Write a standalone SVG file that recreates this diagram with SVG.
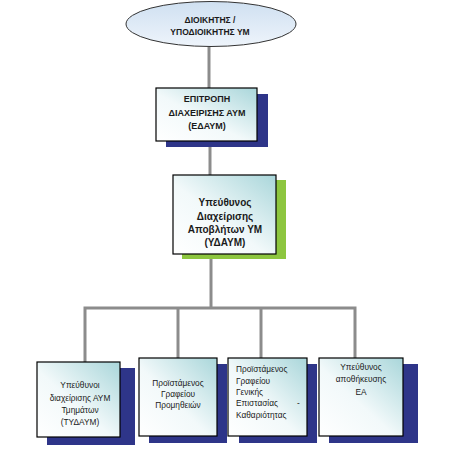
<svg xmlns="http://www.w3.org/2000/svg" width="474" height="457" viewBox="0 0 474 457">
<defs>
<linearGradient id="boxg" x1="0" y1="1" x2="1" y2="0">
<stop offset="0" stop-color="#ffffff"/>
<stop offset="0.45" stop-color="#f2f9fa"/>
<stop offset="1" stop-color="#a9d6da"/>
</linearGradient>
<linearGradient id="ellg" x1="0" y1="0" x2="0" y2="1">
<stop offset="0" stop-color="#cfe0f1"/>
<stop offset="1" stop-color="#eef4fb"/>
</linearGradient>
<style>
.box{fill:url(#boxg);stroke:#000;stroke-width:1.2}
.sh{fill:#2e3589}
.gr{fill:#8dc63f}
.ln{stroke:#8c8c8c;stroke-width:3;fill:none}
text{font-family:"Liberation Sans",Arial,sans-serif;fill:#1a1a1a}
.b{font-weight:bold}
.c{text-anchor:middle}
.s{font-size:8.3px}
</style>
</defs>
<rect width="474" height="457" fill="#ffffff"/>
<g id="connectors">
<line class="ln" x1="209" y1="47" x2="209" y2="88"/>
<line class="ln" x1="210" y1="147" x2="210" y2="175"/>
<line class="ln" x1="211" y1="259" x2="211" y2="308"/>
<polyline class="ln" points="85,362 85,308 355,308 355,358"/>
<line class="ln" x1="178" y1="308" x2="178" y2="358"/>
<line class="ln" x1="261" y1="308" x2="261" y2="358"/>
</g>
<g id="n_dioikitis">
<ellipse cx="211" cy="24" rx="85" ry="22.5" fill="url(#ellg)" stroke="#333" stroke-width="1"/>
<text class="b c" x="210" y="23" font-size="8.5">ΔΙΟΙΚΗΤΗΣ /</text>
<text class="b c" x="210" y="35" font-size="8.5">ΥΠΟΔΙΟΙΚΗΤΗΣ ΥΜ</text>
</g>
<g id="n_edaym">
<rect class="sh" x="166" y="94" width="102" height="53"/>
<rect class="box" x="156" y="88" width="101" height="53"/>
<text class="b c" x="207" y="102" font-size="9">ΕΠΙΤΡΟΠΗ</text>
<text class="b c" x="207" y="116" font-size="9">ΔΙΑΧΕΙΡΙΣΗΣ ΑΥΜ</text>
<text class="b c" x="207" y="129" font-size="9">(ΕΔΑΥΜ)</text>
</g>
<g id="n_ydaym">
<rect class="gr" x="182" y="180" width="104" height="79"/>
<rect class="box" x="173" y="175" width="103" height="79"/>
<text class="b c" x="225" y="206" font-size="10">Υπεύθυνος</text>
<text class="b c" x="225" y="219.5" font-size="10">Διαχείρισης</text>
<text class="b c" x="225" y="232.5" font-size="10">Αποβλήτων ΥΜ</text>
<text class="b c" x="225" y="245.5" font-size="10">(ΥΔΑΥΜ)</text>
</g>
<g id="n_tydaym">
<rect class="sh" x="47" y="368" width="88" height="77"/>
<rect class="box" x="37" y="362" width="83" height="75"/>
<text class="c s" x="80" y="388">Υπεύθυνοι</text>
<text class="c s" x="80" y="401">διαχείρισης ΑΥΜ</text>
<text class="c s" x="80" y="413">Τμημάτων</text>
<text class="c s" x="80" y="425">(ΤΥΔΑΥΜ)</text>
</g>
<g id="n_promitheion">
<rect class="sh" x="149" y="364" width="78" height="79"/>
<rect class="box" x="139" y="358" width="78" height="78"/>
<text class="c s" x="178" y="386">Προϊστάμενος</text>
<text class="c s" x="178" y="397">Γραφείου</text>
<text class="c s" x="178" y="408">Προμηθειών</text>
</g>
<g id="n_epistasias">
<rect class="sh" x="239" y="364" width="78" height="79"/>
<rect class="box" x="228" y="358" width="79" height="78"/>
<text class="s" x="236" y="372">Προϊστάμενος</text>
<text class="s" x="236" y="384">Γραφείου</text>
<text class="s" x="236" y="395">Γενικής</text>
<text class="s" x="236" y="406">Επιστασίας</text>
<text class="s" x="297" y="406">-</text>
<text class="s" x="236" y="418">Καθαριότητας</text>
</g>
<g id="n_apothikeusis">
<rect class="sh" x="329" y="364" width="89" height="79"/>
<rect class="box" x="319" y="358" width="84" height="78"/>
<text class="c s" x="361" y="370">Υπεύθυνος</text>
<text class="c s" x="361" y="382">αποθήκευσης</text>
<text class="c s" x="361" y="395">ΕΑ</text>
</g>
</svg>
